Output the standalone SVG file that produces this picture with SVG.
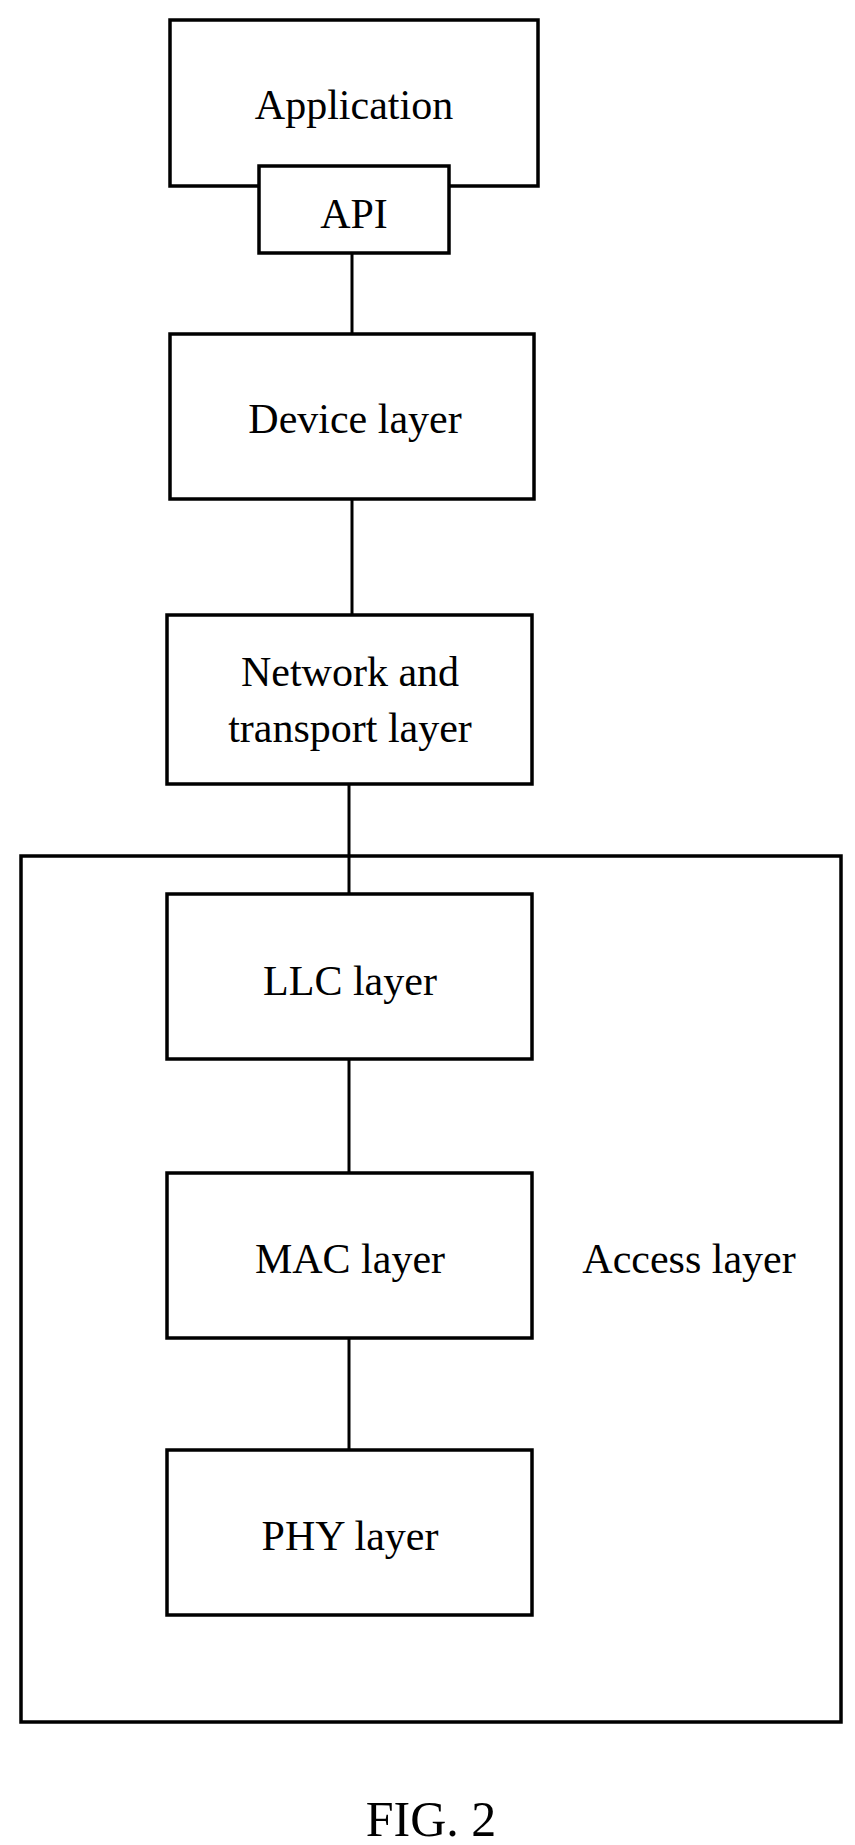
<svg xmlns="http://www.w3.org/2000/svg" width="855" height="1845" viewBox="0 0 855 1845">
<style>
.b{fill:none;stroke:#000;stroke-width:3.5}
line{stroke:#000;stroke-width:3}
text{font-family:"Liberation Serif",serif;font-size:42px;text-anchor:middle;fill:#000}
</style>
<rect width="855" height="1845" fill="#fff"/>
<g id="access"><rect class="b" x="21" y="856" width="820" height="866"/><text x="689" y="1273">Access layer</text></g>
<g id="application"><rect class="b" x="170" y="20" width="368" height="166"/><text x="354" y="119">Application</text></g>
<g id="api"><rect class="b" x="259" y="166" width="190" height="87" style="fill:#fff"/><text x="354" y="228">API</text></g>
<g id="device"><rect class="b" x="170" y="334" width="364" height="165"/><text x="355" y="433">Device layer</text></g>
<g id="network"><rect class="b" x="167" y="615" width="365" height="169"/><text x="350" y="686">Network and</text><text x="350" y="742">transport layer</text></g>
<g id="llc"><rect class="b" x="167" y="894" width="365" height="165"/><text x="350" y="995">LLC layer</text></g>
<g id="mac"><rect class="b" x="167" y="1173" width="365" height="165"/><text x="350" y="1273">MAC layer</text></g>
<g id="phy"><rect class="b" x="167" y="1450" width="365" height="165"/><text x="350" y="1550">PHY layer</text></g>
<g id="connectors">
<line x1="352" y1="253" x2="352" y2="334"/>
<line x1="352" y1="499" x2="352" y2="615"/>
<line x1="349" y1="784" x2="349" y2="894"/>
<line x1="349" y1="1059" x2="349" y2="1173"/>
<line x1="349" y1="1338" x2="349" y2="1450"/>
</g>
<text x="431" y="1836" style="font-size:50px">FIG. 2</text>
</svg>
